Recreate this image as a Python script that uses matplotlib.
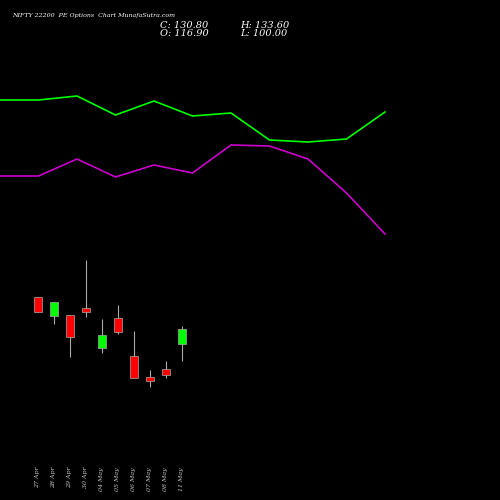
import matplotlib
matplotlib.use("Agg")
import matplotlib.pyplot as plt

dates = ["27 Apr", "28 Apr", "29 Apr", "30 Apr", "04 May", "05 May",
         "06 May", "07 May", "08 May", "11 May"]
opens = [160.9, 143.4, 144.1, 150.5, 112.5, 141.0, 105.5, 84.9, 92.8, 116.9]
closes = [147.2, 156.7, 123.5, 147.2, 125.1, 128.2, 84.5, 81.7, 87.1, 130.8]
highs = [160.9, 156.7, 144.1, 196.4, 140.0, 153.6, 128.9, 91.8, 100.7, 133.6]
lows = [147.2, 135.3, 104.5, 142.5, 108.3, 126.0, 84.0, 76.0, 84.5, 100.0]

# indicator lines (own scale, higher = further up)
green_line = [400, 400, 404, 385, 399, 384, 387, 360, 358, 361, 388]
magenta_line = [324, 324, 341, 323, 335, 327, 355, 354, 341, 307, 266]

fig = plt.figure(figsize=(5, 5), dpi=100, facecolor="black")

# lines axes
lax = fig.add_axes([0, 0, 1, 1], facecolor="black")
lx = list(range(len(green_line)))
lax.plot(lx, green_line, color="#00ff00", lw=1.2)
lax.plot(lx, magenta_line, color="#cc00cc", lw=1.2)
lax.set_xlim(0, 500 / 38.5)
lax.set_ylim(0, 500)
lax.axis("off")

# candles axes
ax = fig.add_axes([0, 0, 1, 1], facecolor="none")
for i in range(len(dates)):
    up = closes[i] >= opens[i]
    col = "#00ff00" if up else "#ff0000"
    ax.vlines(i, lows[i], highs[i], color="#aaaaaa", lw=0.8, zorder=1)
    lo, hi = min(opens[i], closes[i]), max(opens[i], closes[i])
    ax.bar(i, max(hi - lo, 0.8), bottom=lo, width=0.56, color=col,
           edgecolor="#aaaaaa", lw=0.5, zorder=2)
    ax.text(i, 0.066, dates[i], transform=ax.get_xaxis_transform(),
            rotation=90, ha="center", va="top", fontsize=4.5,
            family="serif", style="italic", color="#cccccc")
ax.set_xlim(-38 / 16, 462 / 16)
ax.set_ylim(-31.7, 443.4)
ax.axis("off")

fig.text(0.024, 0.97, "NIFTY 22200  PE Options  Chart MunafaSutra.com",
         fontsize=4.5, family="serif", style="italic", color="white", va="center")
fig.text(0.32, 0.95, "C: 130.80", fontsize=7, family="serif", style="italic", color="white", va="center")
fig.text(0.48, 0.95, "H: 133.60", fontsize=7, family="serif", style="italic", color="white", va="center")
fig.text(0.32, 0.934, "O: 116.90", fontsize=7, family="serif", style="italic", color="white", va="center")
fig.text(0.48, 0.934, "L: 100.00", fontsize=7, family="serif", style="italic", color="white", va="center")

fig.savefig("out.png", dpi=100, facecolor="black")
